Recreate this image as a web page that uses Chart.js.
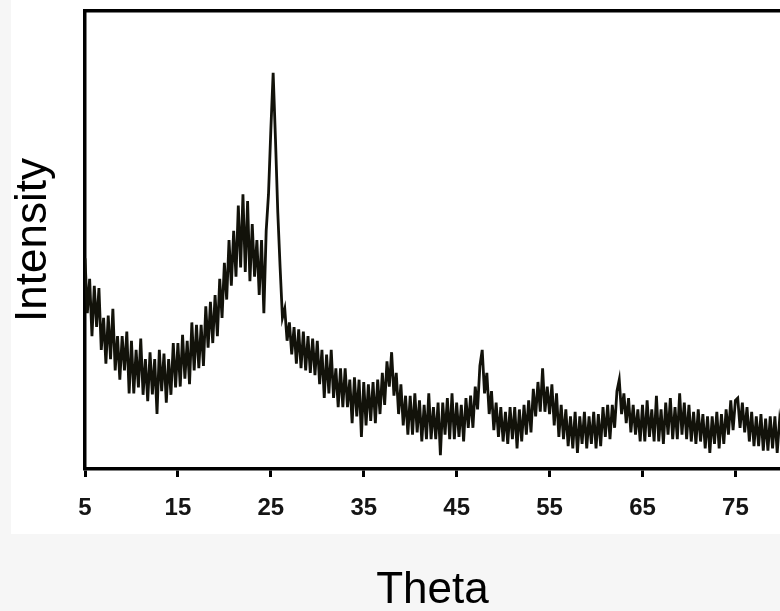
<!DOCTYPE html>
<html>
<head>
<meta charset="utf-8">
<script src="https://cdn.jsdelivr.net/npm/chart.js@4/dist/chart.umd.min.js"></script>
<style>
html, body { margin: 0; padding: 0; }
body { width: 780px; height: 611px; background: #f6f6f6; position: relative; overflow: hidden; }
#paper { position: absolute; left: 11px; top: 0; width: 769px; height: 534px; background: #fff; }
#chart { position: absolute; left: 0; top: 0; }
</style>
</head>
<body>
<div id="paper"></div>
<canvas id="chart" width="780" height="611"></canvas>
<script>
// scan: 5 to 80 deg, step 0.25
const thetaStart = 5;
const thetaStep = 0.25;
const xTicks = [5, 15, 25, 35, 45, 55, 65, 75];

// intensity, one row per 5 deg
const intensity = [
  46, 34, 41.5, 29, 40, 31, 39.5, 26, 33, 23, 33.5, 24, 35, 21.5, 29, 19.5, 29, 21.5, 30, 16.5,
  28, 16.5, 26, 17.8, 28.5, 16.2, 24, 14.8, 25.5, 16.3, 24, 12, 26, 17, 25.2, 14.5, 24, 16.2, 27.5, 17.8,
  27.5, 18, 29.3, 19.7, 28, 18.5, 32, 21.5, 31.5, 22, 31.5, 22.5, 35.5, 26.5, 36.5, 27.5, 38, 29, 41.5, 33,
  45, 37, 50, 40, 52, 42, 57.5, 44, 60, 43, 58.5, 41, 53.5, 42, 50, 38, 50, 34, 52, 60,
  74, 86.5, 72, 56, 44, 33, 35, 28, 32, 25, 31, 23, 30.5, 22, 30, 21.5, 29, 21, 28.5, 20.5,
  28, 18.5, 26, 15.5, 25, 16.5, 26, 15.5, 22, 13.5, 22, 13.5, 22, 13.5, 19.5, 10, 20, 11.5, 19.5, 7,
  19, 9.5, 18.5, 10.5, 19, 10, 19.5, 12, 21, 14, 23.5, 18, 25.5, 16, 21, 12, 18.5, 9.5, 16, 7.5,
  16, 7.5, 16.5, 8, 15, 6, 14, 6.5, 16.5, 6.5, 13.5, 6.5, 14.5, 3, 14.5, 7.5, 15.5, 6.5, 16.5, 6.5,
  14.5, 7, 14, 6, 15.5, 9, 16, 9, 18, 13, 22.5, 26, 16.5, 21, 12, 17, 8.5, 14.5, 7, 13.5,
  6, 12.5, 5.5, 13.5, 6.5, 13.5, 4.5, 13, 6, 14, 7.5, 15, 8, 17.5, 11.5, 19, 12.5, 22, 12.5, 18,
  12, 18.5, 9.5, 16.5, 7, 14, 6.5, 13, 5, 11.5, 4.5, 12.5, 3.5, 11.5, 5.5, 12.5, 4.5, 11.5, 5.5, 12.5,
  4.5, 12, 5, 13.5, 7, 14, 6.5, 14, 9, 17, 19.5, 12, 16.5, 10, 15.5, 8, 14, 7.5, 13, 6,
  14, 6, 15, 7, 13, 6, 16, 6, 13, 5.5, 14.5, 7.5, 15.5, 6.5, 13.5, 6.5, 16.5, 7.5, 14.5, 6.5,
  14, 6, 12.5, 5.5, 13, 6, 12, 4.5, 11.5, 3.5, 11.5, 5.5, 12.5, 4.5, 12, 5.5, 13, 7.5, 15, 8.5,
  15, 15.5, 9, 14.5, 8, 13.5, 6, 12.5, 5, 11.5, 5, 12, 4, 11, 4, 11.5, 4.5, 11.5, 3.5, 10.5,
  7
];

const fontFamily = '"Liberation Sans", Arial, sans-serif';
const points = intensity.map((v, i) => ({ x: thetaStart + i * thetaStep, y: v }));

new Chart(document.getElementById('chart'), {
  type: 'line',
  data: {
    datasets: [{
      data: points,
      borderColor: '#12120a',
      borderWidth: 2.8,
      borderJoinStyle: 'miter',
      pointRadius: 0,
      tension: 0,
      fill: false
    }]
  },
  options: {
    responsive: false,
    animation: false,
    devicePixelRatio: 1,
    layout: { padding: 0 },
    plugins: { legend: { display: false }, tooltip: { enabled: false } },
    scales: {
      x: {
        type: 'linear',
        position: 'bottom',
        min: 5,
        max: 79.8,
        afterBuildTicks: s => { s.ticks = xTicks.map(v => ({ value: v })); },
        afterFit: s => { s.height = 142; },
        grid: { display: true, drawOnChartArea: false, drawTicks: true, tickLength: 8, tickWidth: 3, tickColor: '#000' },
        border: { display: true, color: '#000', width: 3.5 },
        ticks: { color: '#151515', padding: 17, maxRotation: 0, font: { family: fontFamily, size: 24, weight: 'bold' } },
        title: { display: true, text: 'Theta', color: '#000', padding: { top: 0, bottom: 0 }, font: { family: fontFamily, size: 44, lineHeight: 0.9 } }
      },
      xTop: {
        type: 'linear',
        position: 'top',
        min: 5,
        max: 79.8,
        afterFit: s => { s.height = 11; },
        ticks: { display: false },
        grid: { display: false },
        border: { display: true, color: '#000', width: 3.5 }
      },
      y: {
        position: 'left',
        min: 0,
        max: 100,
        afterFit: s => { s.width = 85; },
        ticks: { display: false },
        grid: { display: false },
        border: { display: true, color: '#000', width: 3.5 },
        title: { display: true, text: 'Intensity', color: '#000', padding: { top: 12, bottom: 0 }, font: { family: fontFamily, size: 44, lineHeight: 1 } }
      }
    }
  }
});
</script>
</body>
</html>
